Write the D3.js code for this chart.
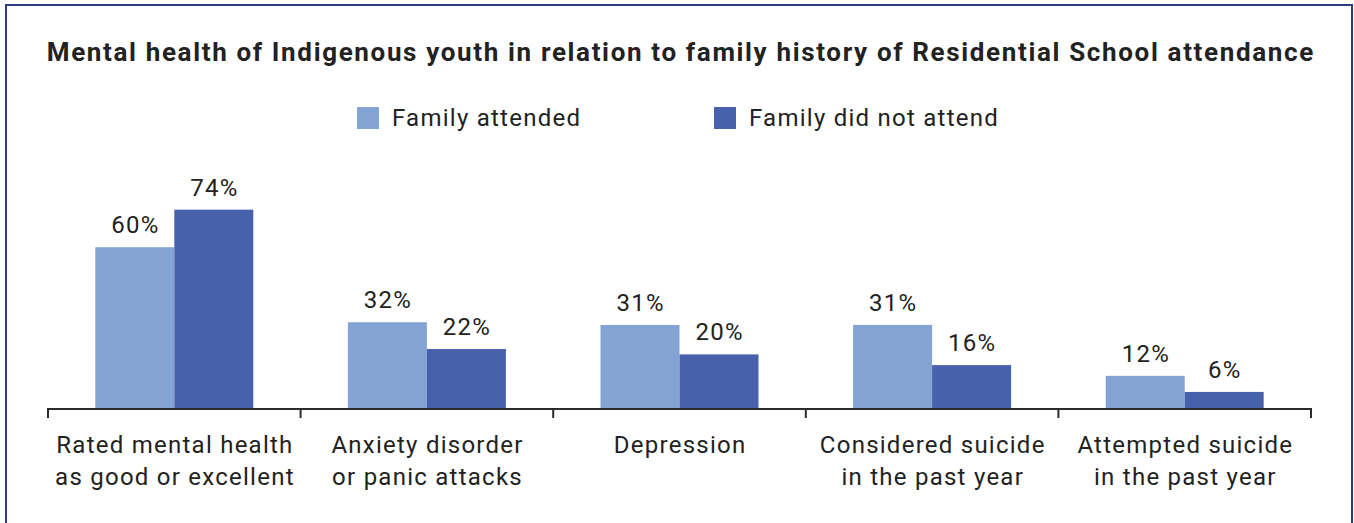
<!DOCTYPE html>
<html>
<head>
<meta charset="utf-8">
<script src="https://cdn.jsdelivr.net/npm/d3@7"></script>
<style>
  html, body { margin: 0; padding: 0; background: #fff; }
  svg { display: block; font-family: Roboto, "Noto Sans", sans-serif; }
</style>
</head>
<body>
<svg id="chart" width="1354" height="523"></svg>
<script>
// Survey results by category
const categories = [
  ["Rated mental health", "as good or excellent"],
  ["Anxiety disorder", "or panic attacks"],
  ["Depression"],
  ["Considered suicide", "in the past year"],
  ["Attempted suicide", "in the past year"]
];
const seriesNames = ["Family attended", "Family did not attend"];
const familyAttended = [60, 32, 31, 31, 12];
const familyDidNotAttend = [74, 22, 20, 16, 6];
const seriesColors = ["#82a3d4", "#4861ab"];

const svg = d3.select("#chart");
const W = 1354, H = 523;
const textColor = "#222";
const bodySize = 24, bodySpacing = 1.25;

// Frame (open at the bottom)
svg.append("path")
  .attr("d", `M6,${H + 2} L6,5 L1352,5 L1352,${H + 2}`)
  .attr("fill", "none")
  .attr("stroke", "#2e3b80")
  .attr("stroke-width", 2);

// Title
const titleSpacing = 1.65;
svg.append("text")
  .attr("x", 680 + titleSpacing / 2).attr("y", 61)
  .attr("text-anchor", "middle")
  .attr("font-size", 26)
  .attr("font-weight", 700)
  .attr("letter-spacing", titleSpacing)
  .attr("fill", textColor)
  .text("Mental health of Indigenous youth in relation to family history of Residential School attendance");

// Legend
const legendX = [357, 714];
const legend = svg.append("g");
seriesNames.forEach((name, i) => {
  legend.append("rect")
    .attr("x", legendX[i]).attr("y", 107)
    .attr("width", 22).attr("height", 22)
    .attr("fill", seriesColors[i]);
  legend.append("text")
    .attr("x", legendX[i] + 35).attr("y", 126)
    .attr("font-size", bodySize)
    .attr("letter-spacing", bodySpacing)
    .attr("fill", textColor)
    .text(name);
});

// Scales
const x = d3.scaleBand()
  .domain(d3.range(categories.length))
  .range([48, 1311])
  .padding(0);
const barW = 79;
const y = d3.scaleLinear().domain([0, 100]).range([408, 140]);

const data = categories.map((c, i) => ({
  i,
  values: [familyAttended[i], familyDidNotAttend[i]]
}));

const groups = svg.append("g").selectAll("g")
  .data(data).join("g")
  .attr("transform", d => `translate(${x(d.i) + x.bandwidth() / 2},0)`);

groups.selectAll("rect")
  .data(d => d.values.map((v, s) => ({ v, s })))
  .join("rect")
  .attr("x", d => d.s === 0 ? -barW : 0)
  .attr("y", d => y(d.v))
  .attr("width", barW)
  .attr("height", d => y(0) - y(d.v))
  .attr("fill", d => seriesColors[d.s]);

groups.selectAll("text.val")
  .data(d => d.values.map((v, s) => ({ v, s })))
  .join("text")
  .attr("class", "val")
  .attr("x", d => (d.s === 0 ? -barW / 2 : barW / 2) + bodySpacing / 2)
  .attr("y", d => y(d.v) - 14)
  .attr("text-anchor", "middle")
  .attr("font-size", bodySize)
  .attr("letter-spacing", bodySpacing)
  .attr("fill", textColor)
  .text(d => d.v + "%");

// Axis with ticks at category boundaries
const boundaries = d3.range(categories.length + 1).map(k => 48 + k * x.bandwidth());
const axis = svg.append("g");
axis.append("line")
  .attr("x1", 48).attr("x2", 1311)
  .attr("y1", 409).attr("y2", 409)
  .attr("stroke", "#2b2b2b").attr("stroke-width", 2);
axis.selectAll("line.tick")
  .data(boundaries).join("line")
  .attr("class", "tick")
  .attr("x1", d => d).attr("x2", d => d)
  .attr("y1", 408).attr("y2", 418)
  .attr("stroke", "#2b2b2b").attr("stroke-width", 2);

// Category labels
groups.each(function (d) {
  const t = d3.select(this).append("text")
    .attr("text-anchor", "middle")
    .attr("font-size", bodySize)
    .attr("letter-spacing", bodySpacing)
    .attr("fill", textColor);
  categories[d.i].forEach((line, k) => {
    t.append("tspan").attr("x", bodySpacing / 2).attr("y", 453 + k * 32).text(line);
  });
});
</script>
</body>
</html>
